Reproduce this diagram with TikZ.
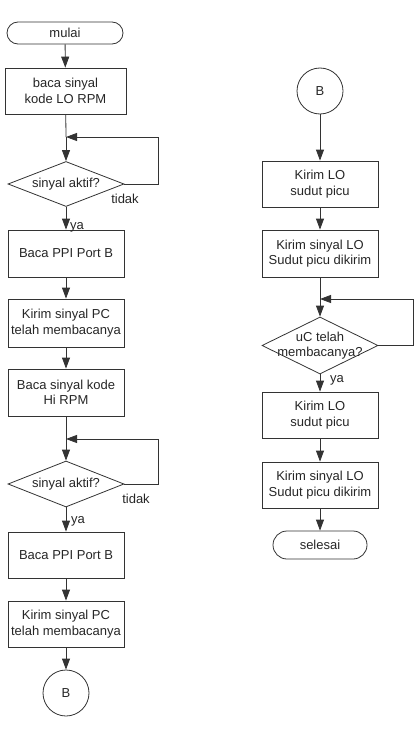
\documentclass[tikz,border=0pt]{standalone}
\usepackage{fontspec}
\setmainfont{Liberation Sans}
\usetikzlibrary{arrows.meta,shapes.geometric}
\begin{document}
\begin{tikzpicture}[x=1pt,y=-1pt,
  line width=0.8pt, draw=black!80,
  every node/.style={font=\fontsize{13}{15.5}\selectfont, text=black!85, align=center},
  proc/.style={draw, rectangle, minimum width=116pt, inner sep=0pt},
  term/.style={draw, rectangle, rounded corners=11pt, inner sep=0pt},
  dec/.style={draw, diamond, inner sep=0pt, minimum width=116pt},
  conn/.style={draw, circle, minimum size=46pt, inner sep=0pt},
  arr/.style={-{Triangle[length=11pt,width=8pt]}},
  lbl/.style={inner sep=0pt}]
\useasboundingbox (0,0) rectangle (415,733);
% left column
\node[term, minimum width=116pt, minimum height=22pt] (mulai) at (65,33) {mulai};
\node[proc, minimum width=121pt, minimum height=46pt] (b1) at (65.5,91) {baca sinyal\\kode LO RPM};
\coordinate (j1) at (66,137);
\node[dec, minimum height=45pt] (d1) at (66,184) {};
\node at (d1) {sinyal aktif?};
\node[proc, minimum height=47pt] (b2) at (66,253.5) {Baca PPI Port B};
\node[proc, minimum height=48pt] (b3) at (66,323) {Kirim sinyal PC\\telah membacanya};
\node[proc, minimum height=47pt] (b4) at (66,392.5) {Baca sinyal kode\\Hi RPM};
\coordinate (j2) at (66,439);
\node[dec, minimum height=46pt] (d2) at (66,484) {};
\node at (d2) {sinyal aktif?};
\node[proc, minimum height=46pt] (b5) at (66,555) {Baca PPI Port B};
\node[proc, minimum height=46pt] (b6) at (66,624) {Kirim sinyal PC\\telah membacanya};
\node[conn] (cb1) at (66,693) {B};
% right column
\node[conn] (cb2) at (320,91) {B};
\node[proc, minimum height=46pt] (r1) at (320,184) {Kirim LO\\sudut picu};
\node[proc, minimum height=47pt] (r2) at (320,253.5) {Kirim sinyal LO\\Sudut picu dikirim};
\coordinate (j3) at (320,299);
\node[dec, minimum height=57pt] (d3) at (320,345.5) {};
\node at (d3) {uC telah\\membacanya?};
\node[proc, minimum height=46pt] (r3) at (320,415) {Kirim LO\\sudut picu};
\node[proc, minimum height=46pt] (r4) at (320,485) {Kirim sinyal LO\\Sudut picu dikirim};
\node[term, minimum width=94pt, minimum height=28pt, rounded corners=14pt] (selesai) at (320,545) {selesai};
% labels
\node[lbl] (t1) at (125,199) {tidak};
\node[lbl] (y1) at (77,227) {ya};
\node[lbl] (t2) at (136,499) {tidak};
\node[lbl] (y2) at (78,521) {ya};
\node[lbl] (y3) at (337,380) {ya};
% connectors left
\draw[arr] (mulai) -- (b1);
\draw (b1) -- (j1);
\draw[arr] (j1) -- (d1.north);
\draw[arr] (d1.east) -- (158,184) -- (158,137) -- (j1);
\draw[arr] (d1.south) -- (b2);
\draw[arr] (b2) -- (b3);
\draw[arr] (b3) -- (b4);
\draw (b4) -- (j2);
\draw[arr] (j2) -- (d2.north);
\draw[arr] (d2.east) -- (158,484) -- (158,439) -- (j2);
\draw[arr] (d2.south) -- (b5);
\draw[arr] (b5) -- (b6);
\draw[arr] (b6) -- (cb1);
% connectors right
\draw[arr] (cb2) -- (r1);
\draw[arr] (r1) -- (r2);
\draw (r2) -- (j3);
\draw[arr] (j3) -- (d3.north);
\draw[arr] (d3.east) -- (413,345.5) -- (413,299) -- (j3);
\draw[arr] (d3.south) -- (r3);
\draw[arr] (r3) -- (r4);
\draw[arr] (r4) -- (selesai);
\end{tikzpicture}
\end{document}
